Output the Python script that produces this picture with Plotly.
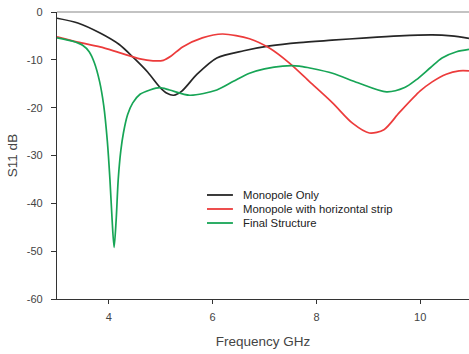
import plotly.graph_objects as go

# Frequency samples (GHz) and S11 (dB) for each antenna configuration
freq_mono = [3.0, 3.4, 3.83, 4.2, 4.46, 4.75, 4.98, 5.12, 5.25, 5.4, 5.7, 6.08, 6.6, 7.1, 7.67, 8.3, 8.96, 9.6, 10.23, 10.6, 10.94]
s11_mono = [-1.3, -2.3, -4.4, -6.8, -9.4, -12.6, -15.7, -17.0, -17.4, -16.6, -13.0, -9.6, -8.1, -7.1, -6.4, -5.9, -5.4, -5.0, -4.8, -5.0, -5.5]

freq_strip = [3.0, 3.4, 3.83, 4.2, 4.6, 4.85, 5.05, 5.2, 5.42, 5.8, 6.19, 6.71, 7.1, 7.48, 7.87, 8.31, 8.7, 9.02, 9.3, 9.6, 10.0, 10.23, 10.5, 10.75, 10.94]
s11_strip = [-5.2, -6.3, -7.3, -8.5, -9.8, -10.2, -10.1, -9.2, -7.3, -5.4, -4.6, -5.6, -7.6, -10.7, -14.6, -19.0, -23.3, -25.3, -24.6, -21.0, -16.5, -14.6, -13.0, -12.3, -12.3]

freq_final = [3.0, 3.3, 3.5, 3.62, 3.72, 3.82, 3.9, 3.97, 4.02, 4.06, 4.1, 4.14, 4.18, 4.23, 4.28, 4.36, 4.46, 4.6, 4.79, 4.98, 5.17, 5.56, 6.08, 6.4, 6.71, 7.0, 7.35, 7.67, 7.87, 8.31, 8.8, 9.35, 9.7, 9.92, 10.2, 10.42, 10.7, 10.94]
s11_final = [-5.4, -6.1, -7.0, -8.3, -10.6, -14.5, -19.5, -27.0, -35.0, -43.0, -49.2, -43.5, -35.0, -29.0, -25.3, -21.5, -19.0, -17.2, -16.3, -15.8, -16.3, -17.4, -16.3, -14.5, -12.8, -11.9, -11.3, -11.3, -11.7, -12.8, -14.8, -16.7, -15.8, -14.2, -11.6, -9.6, -8.3, -7.8]

x_ticks = [4, 6, 8, 10]
y_ticks = [-60, -50, -40, -30, -20, -10, 0]
y_tick_text = ["-60", "-50", "-40", "-30", "-20", "-10", "0"]

names = ["Monopole Only", "Monopole with horizontal strip", "Final Structure"]
colors = ["#262626", "#ec3b3b", "#17a556"]

font_family = "Liberation Sans, Arial, sans-serif"

fig = go.Figure()
for fx, fy, name, col in zip([freq_mono, freq_strip, freq_final],
                             [s11_mono, s11_strip, s11_final], names, colors):
    fig.add_trace(go.Scatter(
        x=fx, y=fy, mode="lines", name=name, showlegend=False,
        line=dict(color=col, width=1.7, shape="spline", smoothing=0.8),
    ))

fig.update_layout(
    width=469, height=354,
    margin=dict(l=57, r=0, t=12, b=55),
    paper_bgcolor="white", plot_bgcolor="white",
    font=dict(family=font_family, size=11, color="#444444"),
    xaxis=dict(
        range=[3, 10.94], tickvals=x_ticks,
        showgrid=False, zeroline=False,
        showline=True, linecolor="#333333", linewidth=1.2,
        ticks="outside", ticklen=4, tickcolor="#333333", ticklabelstandoff=4,
        title=dict(text="Frequency GHz", font=dict(size=13.5, color="#444444"), standoff=14),
    ),
    yaxis=dict(
        range=[-60, 0], tickvals=y_ticks, ticktext=y_tick_text,
        showgrid=False, zeroline=False,
        showline=True, linecolor="#333333", linewidth=1.2,
        ticks="outside", ticklen=5, tickcolor="#333333", ticklabelstandoff=6,
        title=dict(text="S11 dB", font=dict(size=13.5, color="#444444"), standoff=6),
    ),
)

# Light frame line along the top of the plotting area
fig.add_shape(type="line", xref="paper", yref="paper", x0=0, x1=1, y0=1, y1=1,
              line=dict(color="#888888", width=1.2))

# Compact legend: swatch line plus label for each series
legend_rows = [0.3624, 0.3136, 0.2648]
for name, col, ly in zip(names, colors, legend_rows):
    fig.add_shape(type="line", xref="paper", yref="paper",
                  x0=0.364, x1=0.427, y0=ly, y1=ly,
                  line=dict(color=col, width=1.8))
    fig.add_annotation(xref="paper", yref="paper", x=0.447, y=ly,
                       xanchor="left", yanchor="middle", showarrow=False,
                       text=name, font=dict(family=font_family, size=11.3, color="#222222"))

fig.write_html("out.html")
